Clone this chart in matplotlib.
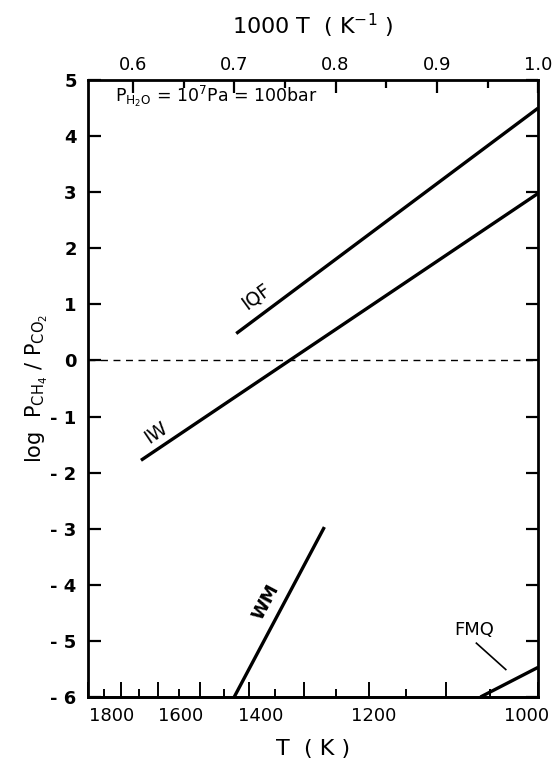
import matplotlib
matplotlib.use("Agg")
import matplotlib.pyplot as plt
import matplotlib.transforms as mtransforms
import numpy as np

# ---- data (x = 1000/T in K^-1, y = log P_CH4/P_CO2) ----
iqf_x = [0.702, 1.0]
iqf_y = [0.48, 4.50]
iw_x = [0.608, 1.0]
iw_y = [-1.78, 2.98]
wm_x = [0.700, 0.789]
wm_y = [-6.0, -2.97]
fmq_x = [0.943, 1.0]
fmq_y = [-6.0, -5.47]

top_ticks = [0.6, 0.7, 0.8, 0.9, 1.0]
top_labels = ["0.6", "0.7", "0.8", "0.9", "1.0"]
top_minor = [0.65, 0.75, 0.85, 0.95]
T_major = [1800, 1700, 1600, 1500, 1400, 1300, 1200, 1100, 1000]
T_labels = ["1800", "", "1600", "", "1400", "", "1200", "", "1000"]
T_minor = [1750, 1650, 1550, 1450, 1350, 1250, 1150, 1050]
y_ticks = [5, 4, 3, 2, 1, 0, -1, -2, -3, -4, -5, -6]
y_labels = ["5", "4", "3", "2", "1", "0", "- 1", "- 2", "- 3", "- 4", "- 5", "- 6"]

plt.rcParams['font.family'] = ['DejaVu Sans']
fig = plt.figure(figsize=(5.52, 7.70), dpi=100)
ax = fig.add_axes([0.159, 0.0948, 0.816, 0.8013])

lw = 2.4
ax.plot(iqf_x, iqf_y, color='black', lw=lw, solid_capstyle='butt')
ax.plot(iw_x, iw_y, color='black', lw=lw, solid_capstyle='butt')
ax.plot(wm_x, wm_y, color='black', lw=lw, solid_capstyle='butt')
ax.plot(fmq_x, fmq_y, color='black', lw=lw, solid_capstyle='butt')
ax.axhline(0, color='black', lw=1.0, ls=(0, (5, 4)))

ax.set_xlim(0.5555, 1.0)
ax.set_ylim(-6, 5)

for s in ax.spines.values():
    s.set_linewidth(2.0)

# top axis: 1000/T
ax.xaxis.tick_top()
ax.xaxis.set_label_position('top')
ax.set_xticks(top_ticks)
ax.set_xticklabels(top_labels, fontsize=13)
ax.set_xticks(top_minor, minor=True)
ax.tick_params(axis='x', which='major', direction='in', length=9, width=1.6, pad=4)
ax.tick_params(axis='x', which='minor', direction='in', length=6, width=1.6)
ax.set_xlabel("1000 T  ( K$^{-1}$ )", fontsize=16, labelpad=16)

# left / right y axis
ax.set_yticks(y_ticks)
ax.set_yticklabels(y_labels, fontsize=13, fontweight='bold')
ax.tick_params(axis='y', which='major', direction='in', length=9, width=1.6,
               left=True, right=True, pad=8)
ax.set_ylabel("log  P$_{\\rm CH_4}$ / P$_{\\rm CO_2}$", fontsize=15, labelpad=0)

# bottom axis: T (K)
sec = ax.secondary_xaxis('bottom', functions=(lambda x: 1000.0 / x, lambda T: 1000.0 / T))
sec.set_xticks(T_major)
sec.set_xticklabels(T_labels, fontsize=13)
sec.set_xticks(T_minor, minor=True)
sec.tick_params(axis='x', which='major', direction='in', length=11, width=1.4, pad=7)
sec.tick_params(axis='x', which='minor', direction='in', length=6, width=1.4)
sec.spines['bottom'].set_linewidth(2.0)
sec.set_xlabel("T  ( K )", fontsize=16, labelpad=10)

# hand-lettered labels in the original sit slightly off their ticks
label_shift_px = {"1800": 24, "1600": 22, "1400": 12, "1200": 4, "1000": -12}
for lab in sec.get_xticklabels():
    dx = label_shift_px.get(lab.get_text(), 0)
    if dx:
        lab.set_transform(lab.get_transform() +
                          mtransforms.ScaledTranslation(dx / 100.0, 0, fig.dpi_scale_trans))

# annotations
ax.text(0.582, 4.7, "P$_{\\rm H_2O}$ = 10$^7$Pa = 100bar", fontsize=12.5,
        ha='left', va='center')
ax.text(0.721, 1.15, "IQF", fontsize=13.5, rotation=36, ha='center', va='center')
ax.text(0.623, -1.28, "IW", fontsize=13.5, rotation=34, ha='center', va='center')
ax.text(0.731, -4.30, "WM", fontsize=13, rotation=62, ha='center', va='center',
        fontweight='bold')
ax.text(0.937, -4.80, "FMQ", fontsize=13, ha='center', va='center')
ax.plot([0.939, 0.968], [-5.04, -5.51], color='black', lw=1.2)

fig.savefig("out.png", dpi=100)
